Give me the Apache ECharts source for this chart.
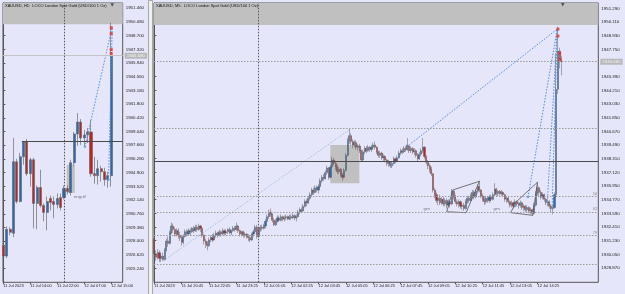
<!DOCTYPE html>
<html>
<head>
<meta charset="utf-8">
<script src="https://cdn.jsdelivr.net/npm/echarts@6/dist/echarts.min.js"></script>
<style>
html, body { margin: 0; padding: 0; background: #e6e6fa; }
#main { width: 625px; height: 294px; }
</style>
</head>
<body>
<div id="main"></div>
<script>
// ---- H1 panel (left) : [open, close, low, high] ----
const h1Bars = [
  [1927.6,1926.5,1926.4,1927.8],[1926.5,1929.2,1926.3,1929.5],[1929.2,1928.9,1928.6,1929.4],
  [1928.8,1936.0,1928.4,1938.4],[1936.0,1932.0,1931.8,1936.3],[1932.0,1936.5,1931.9,1936.9],
  [1936.5,1938.0,1935.7,1938.1],[1938.0,1934.8,1934.6,1938.3],[1934.8,1936.2,1933.5,1936.4],
  [1936.2,1931.8,1929.3,1936.4],[1931.8,1933.4,1929.2,1933.6],[1933.4,1931.6,1931.4,1935.2],
  [1931.6,1930.9,1930.0,1931.8],[1930.9,1932.0,1929.1,1932.5],[1932.3,1931.9,1931.1,1932.6],
  [1932.0,1931.7,1930.3,1932.5],[1931.7,1932.3,1931.3,1932.8],[1932.4,1931.4,1931.1,1932.8],
  [1932.4,1933.3,1932.2,1933.6],[1933.3,1933.0,1932.7,1933.6],[1932.9,1935.9,1932.6,1936.2],
  [1935.9,1938.8,1935.6,1939.0],[1938.8,1940.0,1937.6,1940.9],[1940.0,1938.4,1937.7,1940.3],
  [1938.4,1938.7,1937.6,1939.2],[1938.7,1939.0,1937.9,1939.4],[1939.0,1934.8,1934.5,1940.2],
  [1934.8,1934.6,1933.8,1936.5],[1934.6,1935.3,1933.7,1936.2],[1935.3,1935.0,1934.0,1935.6],
  [1935.0,1934.2,1933.6,1935.4],[1934.2,1934.6,1933.4,1935.0],[1934.6,1946.68,1933.5,1950.0]
];
const h1TimeTicks = [0, 8, 16, 24, 32];
const h1TimeLabels = ['11 Jul 2023', '11 Jul 14:00', '11 Jul 22:00', '12 Jul 07:00', '12 Jul 15:00'];
const h1PriceTicks = [1951.46,1950.08,1948.70,1947.32,1945.94,1944.56,1943.18,1941.80,1940.42,1939.04,
  1937.66,1936.28,1934.90,1933.52,1932.14,1930.76,1929.38,1928.00,1926.62,1925.24];

// ---- M5 panel (right) : [open, close, low, high] ----
const m5Bars = [
  [1931.4,1930.1,1929.8,1931.6],[1930.1,1929.8,1929.5,1930.4],[1929.8,1930.2,1929.6,1930.5],[1930.2,1929.7,1929.4,1930.4],
  [1929.7,1929.9,1929.4,1930.1],[1929.9,1929.6,1929.5,1930.2],[1929.6,1930.4,1929.5,1930.6],[1930.4,1931.2,1930.3,1931.4],
  [1931.2,1931.0,1930.7,1931.6],[1931.0,1931.9,1930.9,1932.1],[1931.9,1932.5,1931.8,1932.8],[1932.5,1932.2,1931.9,1932.7],
  [1932.2,1931.8,1931.6,1932.4],[1931.8,1932.1,1931.6,1932.3],[1932.1,1931.7,1931.4,1932.3],[1931.7,1931.5,1931.2,1932.0],
  [1931.5,1931.1,1930.8,1931.7],[1931.1,1931.6,1930.9,1931.8],[1931.6,1932.0,1931.5,1932.2],[1932.0,1931.8,1931.6,1932.2],
  [1931.8,1932.1,1931.7,1932.3],[1932.1,1932.0,1931.7,1932.3],[1932.0,1932.3,1931.9,1932.4],[1932.3,1932.1,1931.9,1932.5],
  [1932.1,1932.4,1932.0,1932.6],[1932.4,1932.2,1932.0,1932.6],[1932.2,1932.5,1932.1,1932.7],[1932.5,1932.3,1932.0,1932.6],
  [1932.3,1931.7,1931.5,1932.4],[1931.7,1931.2,1930.9,1931.8],[1931.2,1931.0,1930.6,1931.4],[1931.0,1930.8,1930.4,1931.2],
  [1930.8,1931.3,1930.7,1931.5],[1931.3,1931.5,1931.1,1931.7],[1931.5,1931.3,1931.1,1931.8],[1931.3,1931.7,1931.2,1931.9],
  [1931.7,1931.9,1931.5,1932.1],[1931.9,1931.7,1931.5,1932.0],[1931.7,1932.0,1931.6,1932.2],[1932.0,1931.8,1931.6,1932.1],
  [1931.8,1932.1,1931.7,1932.3],[1932.1,1931.9,1931.7,1932.2],[1931.9,1932.0,1931.7,1932.2],[1932.0,1932.2,1931.8,1932.3],
  [1932.2,1931.9,1931.8,1932.4],[1931.9,1932.1,1931.7,1932.2],[1932.1,1932.3,1932.0,1932.5],[1932.3,1932.2,1932.0,1932.5],
  [1932.2,1932.5,1932.1,1932.8],[1932.5,1932.1,1931.9,1932.6],[1932.1,1931.8,1931.6,1932.2],[1931.8,1932.0,1931.6,1932.1],
  [1932.0,1931.7,1931.5,1932.1],[1931.7,1931.8,1931.5,1932.0],[1931.8,1931.6,1931.4,1931.9],[1931.6,1931.5,1931.2,1931.8],
  [1931.5,1931.3,1931.1,1931.7],[1931.3,1931.8,1931.2,1931.9],[1931.8,1932.0,1931.6,1932.2],[1932.0,1932.4,1931.9,1932.6],
  [1932.4,1931.6,1931.4,1932.6],[1931.6,1932.2,1931.5,1932.4],[1932.2,1932.4,1932.0,1932.6],[1932.4,1932.3,1932.1,1932.6],
  [1932.3,1932.5,1932.2,1932.7],[1932.5,1932.9,1932.3,1933.1],[1932.9,1933.3,1932.8,1933.5],[1933.3,1933.7,1933.1,1933.9],
  [1933.7,1933.5,1933.3,1934.0],[1933.5,1933.0,1932.8,1933.6],[1933.0,1932.6,1932.5,1933.2],[1932.6,1932.9,1932.5,1933.1],
  [1932.9,1933.2,1932.8,1933.4],[1933.2,1933.0,1932.9,1933.4],[1933.0,1933.3,1932.9,1933.5],[1933.3,1933.1,1932.9,1933.4],
  [1933.1,1933.2,1932.9,1933.4],[1933.2,1933.3,1933.0,1933.5],[1933.3,1933.1,1933.0,1933.4],[1933.1,1933.3,1933.0,1933.5],
  [1933.3,1933.2,1933.0,1933.5],[1933.2,1933.4,1933.1,1933.6],[1933.4,1933.2,1933.0,1933.5],[1933.2,1933.3,1932.9,1933.5],
  [1933.3,1933.7,1933.2,1933.9],[1933.7,1933.9,1933.5,1934.1],[1933.9,1933.8,1933.6,1934.1],[1933.8,1934.2,1933.7,1934.4],
  [1934.2,1934.6,1934.1,1934.8],[1934.6,1934.5,1934.2,1934.8],[1934.5,1934.9,1934.4,1935.1],[1934.9,1935.2,1934.7,1935.4],
  [1935.2,1935.6,1935.0,1935.8],[1935.6,1935.4,1935.2,1935.8],[1935.4,1935.8,1935.3,1936.0],[1935.8,1935.6,1935.4,1936.0],
  [1935.6,1935.9,1935.3,1936.1],[1935.9,1936.4,1935.8,1936.6],[1936.4,1936.7,1936.2,1936.9],[1936.7,1936.6,1936.4,1937.0],
  [1936.6,1937.1,1936.5,1937.3],[1937.1,1937.5,1936.9,1937.7],[1937.5,1936.7,1936.5,1937.6],[1936.7,1937.6,1936.6,1937.8],
  [1937.6,1938.2,1937.5,1938.5],[1938.2,1937.9,1937.7,1938.4],[1937.9,1937.6,1937.3,1938.1],[1937.6,1937.2,1937.0,1937.8],
  [1937.2,1937.4,1937.0,1937.6],[1937.4,1936.9,1936.7,1937.5],[1936.9,1936.7,1936.4,1937.1],[1936.7,1937.3,1936.6,1937.5],
  [1937.3,1938.6,1937.2,1938.8],[1938.6,1939.9,1938.5,1940.1],[1939.9,1940.3,1939.6,1940.9],[1940.3,1939.8,1939.5,1940.5],
  [1939.8,1939.5,1939.2,1940.0],[1939.5,1939.7,1939.3,1939.9],[1939.7,1939.3,1939.1,1939.9],[1939.3,1939.4,1939.0,1939.6],
  [1939.4,1939.0,1938.8,1939.6],[1939.0,1938.2,1938.0,1939.1],[1938.2,1938.9,1938.1,1939.1],[1938.9,1939.2,1938.7,1939.4],
  [1939.2,1939.0,1938.8,1939.4],[1939.0,1939.3,1938.9,1939.5],[1939.3,1939.1,1938.9,1939.4],[1939.1,1939.3,1938.9,1939.5],
  [1939.3,1939.5,1939.2,1939.7],[1939.5,1939.3,1939.1,1939.8],[1939.3,1938.9,1938.7,1939.4],[1938.9,1938.6,1938.4,1939.0],
  [1938.6,1938.8,1938.4,1939.0],[1938.8,1938.4,1938.2,1938.9],[1938.4,1938.5,1938.1,1938.7],[1938.5,1938.2,1938.0,1938.6],
  [1938.2,1937.9,1937.7,1938.3],[1937.9,1938.0,1937.6,1938.2],[1938.0,1937.7,1937.5,1938.1],[1937.7,1937.9,1937.5,1938.1],
  [1937.9,1938.3,1937.8,1938.5],[1938.3,1938.1,1937.9,1938.4],[1938.1,1938.4,1938.0,1938.6],[1938.4,1938.8,1938.3,1939.0],
  [1938.8,1939.0,1938.6,1939.2],[1939.0,1938.9,1938.7,1939.2],[1938.9,1939.2,1938.8,1939.4],[1939.2,1939.1,1938.9,1939.4],
  [1939.1,1939.5,1939.0,1940.1],[1939.4,1939.0,1938.8,1939.5],[1939.0,1939.2,1938.8,1939.4],[1939.2,1938.9,1938.7,1939.3],
  [1938.9,1939.0,1938.6,1939.2],[1939.0,1938.6,1938.4,1939.1],[1938.6,1938.3,1938.1,1938.8],[1938.3,1938.7,1938.2,1938.9],
  [1938.7,1939.0,1938.5,1939.2],[1939.0,1939.3,1938.8,1940.1],[1939.3,1938.5,1938.3,1939.4],[1938.5,1938.0,1937.8,1938.6],
  [1938.0,1937.7,1937.4,1938.2],[1937.7,1937.4,1937.1,1937.9],[1937.4,1937.0,1936.8,1937.6],[1937.0,1935.6,1935.4,1937.1],
  [1935.6,1935.2,1934.9,1935.8],[1935.2,1934.7,1934.5,1935.4],[1934.7,1934.9,1934.3,1935.1],[1934.9,1934.5,1934.3,1935.2],
  [1934.5,1934.8,1934.3,1935.0],[1934.8,1934.4,1934.2,1935.0],[1934.4,1934.7,1934.2,1934.9],[1934.7,1934.3,1934.0,1934.9],
  [1934.3,1934.6,1934.1,1934.8],[1934.6,1934.4,1934.1,1934.8],[1934.4,1935.5,1934.3,1935.7],[1935.5,1935.0,1934.8,1935.6],
  [1935.0,1934.6,1934.4,1935.2],[1934.6,1934.4,1934.2,1934.8],[1934.4,1934.6,1934.1,1934.8],[1934.6,1934.2,1934.0,1934.7],
  [1934.2,1934.3,1933.9,1934.5],[1934.3,1934.0,1933.8,1934.5],[1934.0,1934.6,1933.9,1934.8],[1934.6,1934.9,1934.4,1935.1],
  [1934.9,1934.7,1934.5,1935.1],[1934.7,1935.1,1934.6,1935.3],[1935.1,1935.4,1934.9,1935.6],[1935.4,1935.0,1934.8,1935.6],
  [1935.0,1935.5,1934.9,1935.7],[1935.5,1935.9,1935.3,1936.1],[1935.9,1935.6,1935.4,1936.4],[1935.6,1935.1,1934.9,1935.7],
  [1935.1,1934.8,1934.6,1935.3],[1934.8,1934.6,1934.3,1935.0],[1934.6,1934.9,1934.4,1935.1],[1934.9,1934.7,1934.5,1935.0],
  [1934.7,1935.0,1934.5,1935.2],[1935.0,1934.8,1934.6,1935.2],[1934.8,1935.2,1934.7,1935.4],[1935.2,1935.7,1935.1,1936.2],
  [1935.7,1935.3,1935.1,1935.8],[1935.3,1935.5,1935.1,1935.6],[1935.5,1935.3,1935.1,1935.6],[1935.3,1935.4,1935.1,1935.6],
  [1935.4,1935.2,1935.0,1935.5],[1935.2,1934.8,1934.6,1935.3],[1934.8,1934.9,1934.5,1935.1],[1934.9,1934.6,1934.4,1935.0],
  [1934.6,1934.3,1934.1,1934.7],[1934.3,1934.5,1934.1,1934.7],[1934.5,1934.2,1934.0,1934.6],[1934.2,1934.6,1934.1,1934.8],
  [1934.6,1934.4,1934.2,1934.7],[1934.4,1934.3,1934.0,1934.6],[1934.3,1934.5,1934.1,1934.7],[1934.5,1934.1,1933.9,1934.6],
  [1934.1,1934.2,1933.8,1934.4],[1934.2,1933.9,1933.7,1934.3],[1933.9,1934.1,1933.7,1934.3],[1934.1,1933.8,1933.6,1934.2],
  [1933.8,1933.9,1933.5,1934.1],[1933.9,1933.6,1933.4,1934.0],[1933.6,1934.3,1933.5,1934.5],[1934.3,1935.3,1934.2,1935.5],
  [1935.3,1935.8,1935.1,1936.3],[1935.8,1935.4,1935.1,1935.9],[1935.4,1935.0,1934.8,1935.6],[1935.0,1935.2,1934.8,1935.4],
  [1935.2,1934.8,1934.6,1935.3],[1934.8,1934.5,1934.3,1934.9],[1934.5,1934.6,1934.2,1934.8],[1934.6,1934.2,1934.0,1934.7],
  [1934.2,1934.0,1933.7,1934.4],[1934.0,1934.1,1933.5,1934.3],[1934.1,1935.2,1934.0,1935.4],[1935.2,1944.3,1934.9,1947.4],
  [1944.3,1947.6,1943.9,1949.7],[1947.6,1946.9,1946.1,1947.9],[1946.9,1946.68,1945.5,1947.2]
];
const m5TimeTicks = [0, 16, 32, 48, 64, 80, 96, 112, 128, 144, 160, 176, 192, 208, 224];
const m5TimeLabels = ['11 Jul 2023', '11 Jul 20:45', '11 Jul 22:05', '11 Jul 23:25', '12 Jul 01:05',
  '12 Jul 02:25', '12 Jul 03:45', '12 Jul 05:05', '12 Jul 06:25', '12 Jul 07:45', '12 Jul 09:05',
  '12 Jul 10:25', '12 Jul 11:45', '12 Jul 13:05', '12 Jul 14:25'];
const m5PriceTicks = [1951.29,1950.11,1948.93,1947.75,1945.39,1944.21,1943.03,1941.85,1940.67,1939.49,
  1938.31,1937.12,1935.95,1934.77,1933.59,1932.41,1931.23,1930.05,1928.87];

// objects drawn on the charts
const lastPrice = 1946.68;
const bandLow = 1949.86;
const levelLine = 1938.07;
const fibLevels = [1940.96, 1935.03, 1933.68, 1931.66, 1929.19];
const fibNames = ['', '50', '62', '79', ''];
const h1Trends = [
  [[24.2, 1937.5], [32.3, 1949.6]],
  [[31.2, 1934.2], [32.3, 1949.6]]
];
const m5Trends = [
  [[149, 1939.5], [235.6, 1949.5]],
  [[218.5, 1935.0], [235.6, 1949.5]],
  [[229.8, 1934.6], [235.6, 1949.5]],
  [[232.6, 1934.0], [235.6, 1949.5]]
];
const m5LongTrend = [[5.3, 1929.5], [114.4, 1940.85]];
const m5Shapes = [
  [[171.0, 1933.73], [174.5, 1935.61], [190.1, 1936.36], [182.3, 1933.65], [171.0, 1933.73]],
  [[208.4, 1933.65], [211.5, 1934.57], [224.0, 1936.27], [221.3, 1933.42], [208.4, 1933.65]]
];
const h1RedDots = [[32, 1949.5], [32, 1948.9], [32, 1947.3], [32, 1946.9]];
const m5RedDots = [[236, 1949.5], [236, 1948.9], [237, 1947.4], [237, 1946.9]];
const h1BlueDots = [[24.2, 1937.5], [31.2, 1934.2]];
const m5BlueDots = [[139, 1937.85], [211, 1934.3], [218.5, 1935.0], [229.8, 1934.6]];
const h1Notes = [{ name: 'engulf', value: [20.9, 1932.45] }];
const m5Notes = [{ name: 'grn', value: [159.3, 1933.97] }, { name: 'grn', value: [200.2, 1933.97] }];

const font = 'Liberation Sans';
const bull = '#1f6cc4';
const bear = '#c8201e';

function priceAxis(idx, min, max, ticks) {
  return {
    type: 'value', gridIndex: idx, position: 'right', min: min, max: max,
    axisLine: { show: true, lineStyle: { color: '#555', width: 1 } },
    axisTick: { show: true, length: 2, customValues: ticks, lineStyle: { color: '#555' } },
    axisLabel: { customValues: ticks, formatter: v => v.toFixed(3), fontSize: 4.4, color: '#222', margin: 3, fontFamily: font },
    splitLine: { show: false }
  };
}
function timeAxis(idx, min, max, ticks, labels) {
  return {
    type: 'value', gridIndex: idx, min: min, max: max,
    axisLine: { show: false },
    axisTick: { show: true, length: 2, customValues: ticks, lineStyle: { color: '#555' } },
    axisLabel: { customValues: ticks, formatter: v => labels[ticks.indexOf(v)], fontSize: 4, color: '#222', margin: 2, align: 'left', fontFamily: font },
    splitLine: { show: false }
  };
}
function dotted(idx, color, pts) {
  return {
    type: 'line', xAxisIndex: idx, yAxisIndex: idx, data: pts, symbol: 'none', silent: true,
    lineStyle: { color: color, width: 1, type: [1.5, 1.5] }, z: 4
  };
}
function dots(idx, color, pts, shape, size) {
  return {
    type: 'scatter', xAxisIndex: idx, yAxisIndex: idx, data: pts, symbol: shape, symbolSize: size,
    itemStyle: { color: color }, silent: true, z: 6
  };
}
function notes(idx, pts, pos) {
  return {
    type: 'scatter', xAxisIndex: idx, yAxisIndex: idx, data: pts, symbolSize: 0, silent: true,
    label: { show: true, formatter: '{b}', position: pos, distance: 0, fontSize: 4.4, color: '#555', fontFamily: font }
  };
}

const chart = echarts.init(document.getElementById('main'), null, { renderer: 'canvas' });

const series = [
  {
    type: 'candlestick', xAxisIndex: 0, yAxisIndex: 0, silent: true, barWidth: 2.6,
    data: h1Bars.map((b, i) => [i, b[0], b[1], b[2], b[3]]),
    encode: { x: 0, y: [1, 2, 3, 4] },
    itemStyle: { color: bull, color0: bear, borderColor: '#6a6a6a', borderColor0: '#6a6a6a', borderWidth: 0.7 },
    markArea: {
      silent: true,
      data: [
        [{ yAxis: bandLow, itemStyle: { color: '#c0c0c0', opacity: 1 } }, { yAxis: 1951.99 }],
        [{ xAxis: 18.8, yAxis: 1935.68, itemStyle: { color: '#c0c0c0', opacity: 1 } }, { xAxis: 21.2, yAxis: 1932.86 }]
      ]
    },
    markLine: {
      silent: true, symbol: 'none', animation: false,
      data: [
        { yAxis: lastPrice, lineStyle: { color: '#c4c4c4', type: 'solid', width: 1 },
          label: { show: true, position: 'end', distance: 2, formatter: lastPrice.toFixed(3), backgroundColor: '#b8b8b8',
            color: '#f4f4f4', fontSize: 4.4, padding: [1, 2], fontFamily: font } },
        [{ coord: [5.5, levelLine], lineStyle: { color: '#4a4a4a', type: 'solid', width: 1 }, label: { show: false } },
         { coord: [35.4, levelLine] }],
        { xAxis: 18.1, lineStyle: { color: '#555', type: [1.5, 1.5], width: 1 }, label: { show: false } }
      ]
    }
  },
  {
    type: 'candlestick', xAxisIndex: 1, yAxisIndex: 1, silent: true, barWidth: 1.6,
    data: m5Bars.map((b, i) => [i, b[0], b[1], b[2], b[3]]),
    encode: { x: 0, y: [1, 2, 3, 4] },
    itemStyle: { color: bull, color0: bear, borderColor: '#5a5a5a', borderColor0: '#5a5a5a', borderWidth: 0.5 },
    markArea: {
      silent: true,
      data: [
        [{ yAxis: bandLow, itemStyle: { color: '#c0c0c0', opacity: 1 } }, { yAxis: 1951.75 }],
        [{ xAxis: 102.9, yAxis: 1939.49, itemStyle: { color: '#c0c0c0', opacity: 1 } }, { xAxis: 119.9, yAxis: 1936.18 }]
      ]
    },
    markLine: {
      silent: true, symbol: 'none', animation: false,
      data: [
        { yAxis: lastPrice, lineStyle: { color: '#9a9a9a', type: [1.5, 1.5], width: 1 },
          label: { show: true, position: 'end', distance: 2, formatter: lastPrice.toFixed(3), backgroundColor: '#b8b8b8',
            color: '#f4f4f4', fontSize: 4.4, padding: [1, 2], fontFamily: font } },
        { yAxis: lastPrice, lineStyle: { opacity: 0 },
          label: { show: true, position: 'insideEndTop', distance: 1, formatter: '100', color: '#8a8a8a', fontSize: 4, fontFamily: font } },
        { yAxis: levelLine, lineStyle: { color: '#4a4a4a', type: 'solid', width: 1 }, label: { show: false } },
        { xAxis: 60.8, lineStyle: { color: '#555', type: [1.5, 1.5], width: 1 }, label: { show: false } }
      ].concat(fibLevels.map((v, j) => ({
        yAxis: v, lineStyle: { color: '#9a9a9a', type: [1.5, 1.5], width: 1 },
        label: { show: fibNames[j] !== '', position: 'insideEndTop', distance: 1, formatter: fibNames[j],
          color: '#8a8a8a', fontSize: 4, fontFamily: font }
      })))
    }
  },
  dotted(1, '#9cc3dc', m5LongTrend)
];
h1Trends.forEach(t => series.push(dotted(0, '#4f8fdc', t)));
m5Trends.forEach(t => series.push(dotted(1, '#4f8fdc', t)));
m5Shapes.forEach(s => series.push({
  type: 'line', xAxisIndex: 1, yAxisIndex: 1, data: s, symbol: 'none', silent: true,
  lineStyle: { color: '#555', width: 0.8 }, z: 4
}));
series.push(dots(0, '#e8302a', h1RedDots, 'rect', 3));
series.push(dots(1, '#e8302a', m5RedDots, 'rect', 3));
series.push(dots(0, '#5aa0e8', h1BlueDots, 'circle', 2.5));
series.push(dots(1, '#5aa0e8', m5BlueDots, 'circle', 2.5));
series.push(dots(0, '#333', [[32.3, 1951.8]], 'triangle', 3.5));
series.push(dots(1, '#333', [[238.8, 1951.6]], 'triangle', 3.5));
series.push(notes(0, h1Notes, 'right'));
series.push(notes(1, m5Notes, 'inside'));
series.forEach(s => { if (s.symbol === 'triangle') s.symbolRotate = 180; });

const option = {
  animation: false,
  backgroundColor: '#e6e6fa',
  title: [
    { text: 'XAUUSD, H1:  LOCO London Spot Gold (USD/100 1 Oz)', left: 5, top: 4, padding: 0,
      textStyle: { fontSize: 4, fontWeight: 'normal', color: '#111', fontFamily: font } },
    { text: 'XAUUSD, M5:  LOCO London Spot Gold (USD/100 1 Oz)', left: 156, top: 4, padding: 0,
      textStyle: { fontSize: 4, fontWeight: 'normal', color: '#111', fontFamily: font } }
  ],
  grid: [
    { left: 3, top: 3, width: 119.7, height: 279.3, show: true, backgroundColor: '#e6e6fa', borderColor: '#555', borderWidth: 1 },
    { left: 154, top: 3, width: 444.3, height: 279.3, show: true, backgroundColor: '#e6e6fa', borderColor: '#555', borderWidth: 1 }
  ],
  xAxis: [
    timeAxis(0, -0.1, 35.4, h1TimeTicks, h1TimeLabels),
    timeAxis(1, -0.2, 259.6, m5TimeTicks, m5TimeLabels)
  ],
  yAxis: [
    priceAxis(0, 1923.86, 1951.99, h1PriceTicks),
    priceAxis(1, 1927.64, 1951.75, m5PriceTicks)
  ],
  graphic: [
    { type: 'rect', left: 148, top: 0, shape: { width: 4, height: 294 }, style: { fill: '#f0f0f0', stroke: '#a8a8a8', lineWidth: 1 }, silent: true }
  ],
  series: series
};
chart.setOption(option);
</script>
</body>
</html>
